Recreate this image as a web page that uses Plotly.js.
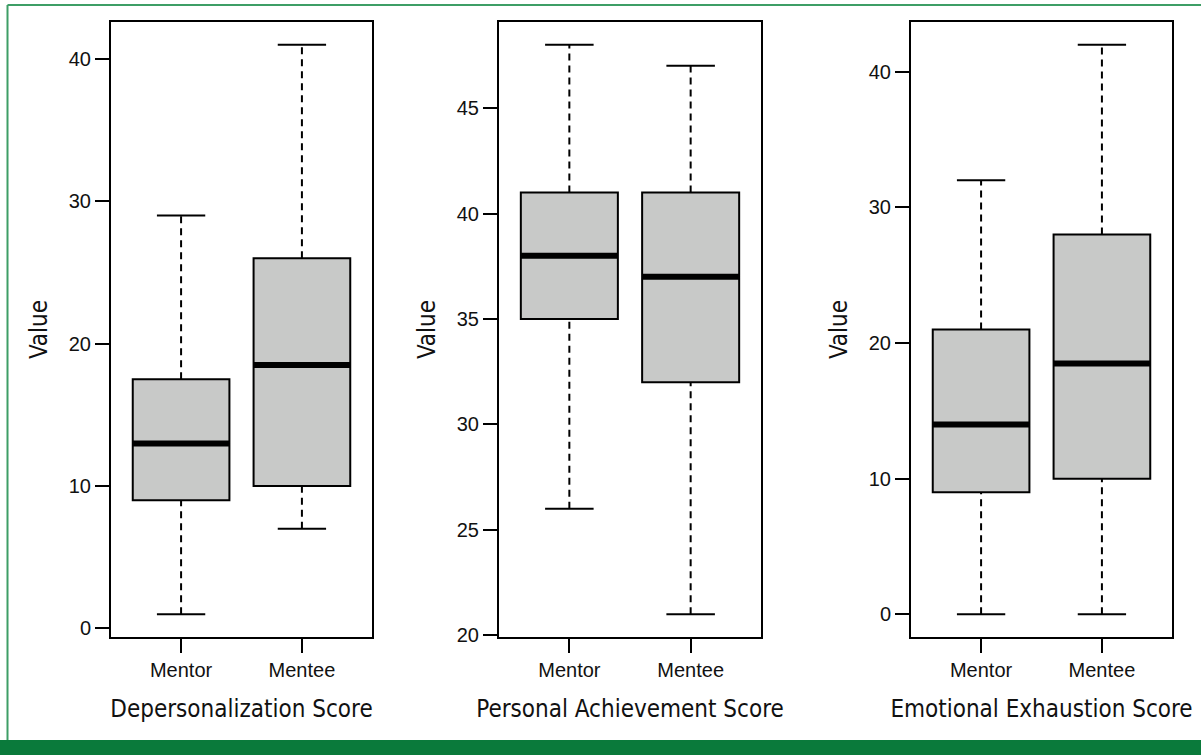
<!DOCTYPE html>
<html>
<head>
<meta charset="utf-8">
<script src="https://cdn.plot.ly/plotly-3.0.1.min.js"></script>
<style>html,body{margin:0;padding:0;background:#fff;}#chart{width:1201px;height:755px;}</style>
</head>
<body>
<div id="chart"></div>
<script>
// ---- data ----
const categories = ['Mentor', 'Mentee'];
const panelTitles = ['Depersonalization Score', 'Personal Achievement Score', 'Emotional Exhaustion Score'];
const yTitle = 'Value';

const depLow  = [1, 7];
const depQ1   = [9, 10];
const depMed  = [13, 18.5];
const depQ3   = [17.5, 26];
const depHigh = [29, 41];

const achLow  = [26, 21];
const achQ1   = [35, 32];
const achMed  = [38, 37];
const achQ3   = [41, 41];
const achHigh = [48, 47];

const exhLow  = [0, 0];
const exhQ1   = [9, 10];
const exhMed  = [14, 18.5];
const exhQ3   = [21, 28];
const exhHigh = [32, 42];

const panelTickStep = [10, 5, 10];

// ---- build ----
const panels = [
  {low: depLow, q1: depQ1, med: depMed, q3: depQ3, high: depHigh},
  {low: achLow, q1: achQ1, med: achMed, q3: achQ3, high: achHigh},
  {low: exhLow, q1: exhQ1, med: exhMed, q3: exhQ3, high: exhHigh}
];
const W = 1201, H = 755;
const xDomPx = [[111, 372], [499, 761], [911, 1172]];
const yDom = [1 - 637 / H, 1 - 22 / H];
const pos = categories.map((c, i) => i + 1);
const boxW = 0.8, capHalf = 0.2;

const tickFont = {family: 'Liberation Sans, Arial, sans-serif', size: 20, color: '#111'};
const titleFont = {family: 'Liberation Sans Narrow, DejaVu Sans Condensed, Arial Narrow, Liberation Sans, sans-serif', size: 24, color: '#111'};

const traces = [];
const layout = {
  width: W, height: H,
  margin: {l: 0, r: 0, t: 0, b: 0, pad: 0},
  paper_bgcolor: '#fff', plot_bgcolor: '#fff',
  showlegend: false, hovermode: false,
  shapes: [
    {type: 'line', xref: 'paper', yref: 'paper', x0: 7.5 / W, x1: 1, y0: 1 - 5 / H, y1: 1 - 5 / H, line: {color: '#3e9e66', width: 2}},
    {type: 'line', xref: 'paper', yref: 'paper', x0: 7.5 / W, x1: 7.5 / W, y0: 15 / H, y1: 1 - 5 / H, line: {color: '#3e9e66', width: 2}},
    {type: 'rect', xref: 'paper', yref: 'paper', x0: 0, x1: 1, y0: 0, y1: 15 / H, fillcolor: '#0a7a3b', line: {width: 0}}
  ]
};

panels.forEach((p, k) => {
  const sfx = k === 0 ? '' : String(k + 1);
  const xa = 'x' + sfx, ya = 'y' + sfx;

  // dashed whiskers
  const wx = [], wy = [];
  pos.forEach((x, i) => {
    wx.push(x, x, null, x, x, null);
    wy.push(p.q3[i], p.high[i], null, p.low[i], p.q1[i], null);
  });
  traces.push({type: 'scatter', mode: 'lines', x: wx, y: wy, xaxis: xa, yaxis: ya,
    line: {color: '#000', width: 2, dash: '7px,5px'}});

  // staples
  const cx = [], cy = [];
  pos.forEach((x, i) => {
    cx.push(x - capHalf, x + capHalf, null, x - capHalf, x + capHalf, null);
    cy.push(p.high[i], p.high[i], null, p.low[i], p.low[i], null);
  });
  traces.push({type: 'scatter', mode: 'lines', x: cx, y: cy, xaxis: xa, yaxis: ya,
    line: {color: '#000', width: 2}});

  // boxes
  traces.push({type: 'box', x: pos, q1: p.q1, median: p.med, q3: p.q3,
    lowerfence: p.q1, upperfence: p.q3, width: boxW, whiskerwidth: 0,
    fillcolor: '#c8c9c8', line: {color: '#000', width: 2},
    xaxis: xa, yaxis: ya, boxpoints: false});

  // thick medians
  const mx = [], my = [];
  pos.forEach((x, i) => {
    mx.push(x - boxW / 2, x + boxW / 2, null);
    my.push(p.med[i], p.med[i], null);
  });
  traces.push({type: 'scatter', mode: 'lines', x: mx, y: my, xaxis: xa, yaxis: ya,
    line: {color: '#000', width: 6}});

  // R-style 4% range extension
  const lo = Math.min(...p.low), hi = Math.max(...p.high);
  const ext = (hi - lo) * 0.04;
  const xr = [pos[0] - 0.5, pos[pos.length - 1] + 0.5];
  const xext = (xr[1] - xr[0]) * 0.04;

  layout['xaxis' + sfx] = {
    domain: [xDomPx[k][0] / W, xDomPx[k][1] / W], anchor: ya,
    range: [xr[0] - xext, xr[1] + xext], tickmode: 'array', tickvals: pos, ticktext: categories,
    ticks: 'outside', ticklen: 14, tickwidth: 2, tickcolor: '#000',
    showline: true, mirror: true, linecolor: '#000', linewidth: 2,
    showgrid: false, zeroline: false, tickfont: tickFont,
    title: {text: panelTitles[k], font: titleFont, standoff: 20}
  };
  layout['yaxis' + sfx] = {
    domain: yDom, anchor: xa,
    range: [lo - ext, hi + ext], tick0: 0, dtick: panelTickStep[k],
    ticks: 'outside', ticklen: 14, tickwidth: 2, tickcolor: '#000',
    showline: true, mirror: true, linecolor: '#000', linewidth: 2,
    showgrid: false, zeroline: false, tickfont: tickFont,
    title: {text: yTitle, font: titleFont, standoff: 14}
  };
});

Plotly.newPlot('chart', traces, layout, {displayModeBar: false, staticPlot: true});
</script>
</body>
</html>
